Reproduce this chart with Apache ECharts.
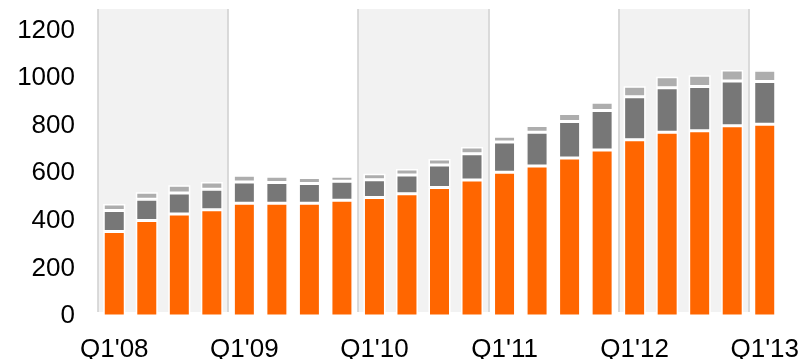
<!DOCTYPE html>
<html>
<head>
<meta charset="utf-8">
<title>Quarterly stacked bars</title>
<script src="https://cdn.jsdelivr.net/npm/echarts@6/dist/echarts.min.js"></script>
<style>
  html, body { margin: 0; padding: 0; background: #fff; }
  #chart { width: 811px; height: 359px; }
</style>
</head>
<body>
<div id="chart"></div>
<script>
// categories: Q1'08 .. Q1'13
var quarters = [
  "Q1'08", "Q2'08", "Q3'08", "Q4'08",
  "Q1'09", "Q2'09", "Q3'09", "Q4'09",
  "Q1'10", "Q2'10", "Q3'10", "Q4'10",
  "Q1'11", "Q2'11", "Q3'11", "Q4'11",
  "Q1'12", "Q2'12", "Q3'12", "Q4'12",
  "Q1'13"
]

// bottom segment (orange)
var orangeValues = [355, 401, 429, 446, 474, 474, 474, 486, 498, 514, 540, 571, 604, 630, 664, 698, 741, 772, 778, 799, 806]
// middle segment (dark gray)
var darkValues = [88, 90, 88, 87, 89, 87, 83, 80, 75, 78, 94, 111, 127, 142, 153, 165, 180, 187, 186, 188, 179]
// top segment (light gray)
var lightValues = [28, 29, 32, 30, 28, 26, 25, 21, 25, 26, 26, 28, 24, 28, 34, 35, 44, 46, 48, 47, 48]

// y axis ticks
var yTicks = [0, 200, 400, 600, 800, 1000, 1200]

// shaded years (index of the year from 2008), 4 quarters per year
var shadedYears = [0, 2, 4]
var quartersPerYear = 4

var yTop = 1290
var bandBottom = 17

var chart = echarts.init(document.getElementById('chart'))

// shaded bands and the thin separators on their edges
var bands = shadedYears.map(function(y) {
  return [
    { coord: [y * quartersPerYear, bandBottom] },
    { coord: [(y + 1) * quartersPerYear, yTop] }
  ]
})
var edges = []
shadedYears.forEach(function(y) {
  [y * quartersPerYear, (y + 1) * quartersPerYear].forEach(function(x) {
    edges.push([{ coord: [x, bandBottom] }, { coord: [x, yTop] }])
  })
})

var font = '"Liberation Sans", Arial, sans-serif'

var barBase = {
  type: 'bar',
  stack: 'total',
  barWidth: 22,
  xAxisIndex: 0,
  yAxisIndex: 0,
  z: 3,
  animation: false
}

chart.setOption({
  animation: false,
  grid: {
    left: 98,
    right: 30,
    top: 9,
    bottom: 43,
    // keep the grid where it is even if the labels run past the edge
    outerBoundsMode: 'none',
    containLabel: false
  },
  xAxis: [{
    type: 'category',
    data: quarters,
    axisLine: { show: false },
    axisTick: { show: false },
    axisLabel: {
      interval: 3,
      color: '#000',
      fontSize: 26,
      fontFamily: font,
      margin: 21
    },
    splitLine: { show: false }
  }, {
    // hidden value axis used to place the year bands on category edges
    type: 'value',
    min: 0,
    max: quarters.length,
    show: false
  }],
  yAxis: {
    type: 'value',
    min: yTicks[0],
    max: yTop,
    interval: yTicks[1] - yTicks[0],
    axisLine: { show: false },
    axisTick: { show: false },
    splitLine: { show: false },
    axisLabel: {
      showMaxLabel: false,
      color: '#000',
      fontSize: 26,
      fontFamily: font,
      margin: 23,
      formatter: function(v) { return String(v) }
    }
  },
  series: [{
    type: 'line',
    xAxisIndex: 1,
    yAxisIndex: 0,
    data: [],
    z: 0,
    silent: true,
    markArea: {
      silent: true,
      itemStyle: { color: '#f2f2f2' },
      data: bands
    },
    markLine: {
      silent: true,
      symbol: ['none', 'none'],
      label: { show: false },
      lineStyle: { color: '#cfcfcf', width: 1.5, type: 'solid' },
      data: edges
    }
  },
  Object.assign({}, barBase, {
    name: 'orange',
    data: orangeValues,
    itemStyle: { color: '#ff6600', borderColor: '#fff', borderWidth: 1.5 }
  }),
  Object.assign({}, barBase, {
    name: 'dark',
    data: darkValues,
    itemStyle: { color: '#777777', borderColor: '#fff', borderWidth: 1.5 }
  }),
  Object.assign({}, barBase, {
    name: 'light',
    data: lightValues,
    itemStyle: { color: '#adadad', borderColor: '#fff', borderWidth: 1.5 }
  })]
})
</script>
</body>
</html>
